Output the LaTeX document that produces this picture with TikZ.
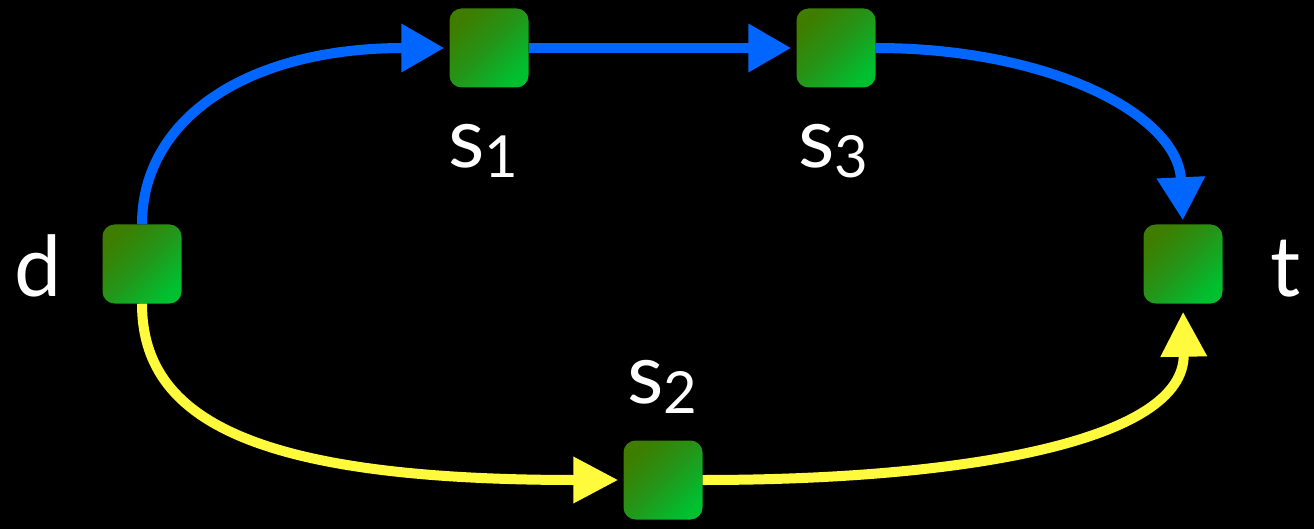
\documentclass[tikz,border=0pt]{standalone}
\usepackage{fontspec}
\setmainfont{Lato}
\usetikzlibrary{arrows.meta}
\definecolor{bl}{RGB}{0,102,255}
\definecolor{yl}{RGB}{255,250,60}
\definecolor{gA}{RGB}{62,125,0}
\definecolor{gB}{RGB}{35,150,25}
\definecolor{gC}{RGB}{0,192,48}
\newcommand\mysub[1]{{\fontsize{58}{58}\selectfont\raisebox{-10pt}{#1}}}
\begin{document}
\begin{tikzpicture}[x=1pt,y=-1pt,
  box/.style={minimum size=79pt, inner sep=0pt, rounded corners=12pt,
    top color=gA, bottom color=gC, middle color=gB, shading angle=45},
  lab/.style={text=white, font=\fontsize{84}{84}\selectfont, inner sep=0pt, anchor=base},
  barrow/.style={draw=bl, line width=10pt, -{Triangle[length=43pt,width=46pt]}},
  yarrow/.style={draw=yl, line width=10pt, -{Triangle[length=45pt,width=44pt]}}]
\fill[black] (0,0) rectangle (1314,529);
\useasboundingbox (0,0) rectangle (1314,529);
\node[box] (d) at (142,264) {};
\node[box] (s1) at (489,48) {};
\node[box] (s3) at (836,48) {};
\node[box] (t) at (1183,264) {};
\node[box] (s2) at (663,480) {};
\node[lab] (ld) at (38,297) {d};
\node[lab] (lt) at (1286,297) {t};
\node[lab] (ls1) at (483,168) {s\mysub{1}};
\node[lab] (ls3) at (833,168) {s\mysub{3}};
\node[lab] (ls2) at (662,403) {s\mysub{2}};
\draw[barrow, shorten >=5pt] (d.north) .. controls (142,120) and (245,48) .. (s1.west);
\draw[barrow, shorten >=5pt] (s1.east) -- (s3.west);
\draw[barrow, shorten >=4pt] (s3.east) .. controls (1050,48) and (1178,115) .. (t.north);
\draw[yarrow, shorten >=5pt] (d.south) .. controls (142,420) and (255,480) .. (s2.west);
\draw[yarrow, shorten >=8pt] (s2.east) .. controls (960,480) and (1185,442) .. (t.south);
\end{tikzpicture}
\end{document}
